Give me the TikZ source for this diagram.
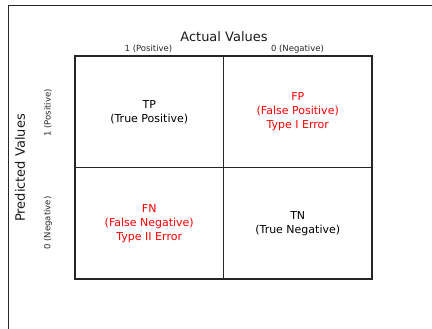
\documentclass[tikz,border=0pt]{standalone}
\usepackage{fontspec}
\setmainfont{DejaVu Sans}
\usepackage{tikz}
\usetikzlibrary{positioning}
\usepackage{xcolor}

\tikzset{
  cell/.style={draw=black!85,line width=1.6pt,minimum width=148.5pt,minimum height=111.5pt,
    align=center,font=\fontsize{11}{14}\selectfont,inner sep=0pt},
  errcell/.style={cell,text=red},
  ticklabel/.style={font=\fontsize{8.5}{10}\selectfont,text=black!85},
  axislabel/.style={font=\fontsize{13}{15}\selectfont,text=black!90}
}

\begin{document}
\begin{tikzpicture}[x=1pt,y=-1pt]
  \useasboundingbox (0,0) rectangle (432,329);
  % frame edges
  \draw[black!85,line width=0.9pt] (8,329) -- (8,5) -- (432,5);

  % the four cells, borders overlapping
  \node[cell] (tp) at (149.25,111.75){TP\\(True Positive)};
  \node[errcell,right=-1.6pt of tp] (fp){FP\\(False Positive)\\Type I Error};
  \node[errcell,below=-1.6pt of tp] (fn){FN\\(False Negative)\\Type II Error};
  \node[cell,right=-1.6pt of fn] (tn){TN\\(True Negative)};

  % axis titles and tick labels
  \node[axislabel] (actual) at (224,37){Actual Values};
  \node[ticklabel] (colpos) at (148.5,49){1 (Positive)};
  \node[ticklabel] (colneg) at (297.5,49){0 (Negative)};
  \node[axislabel,rotate=90] (predicted) at (20,168){Predicted Values};
  \node[ticklabel,rotate=90] (rowpos) at (48,113){1 (Positive)};
  \node[ticklabel,rotate=90] (rowneg) at (48,223){0 (Negative)};
\end{tikzpicture}
\end{document}
